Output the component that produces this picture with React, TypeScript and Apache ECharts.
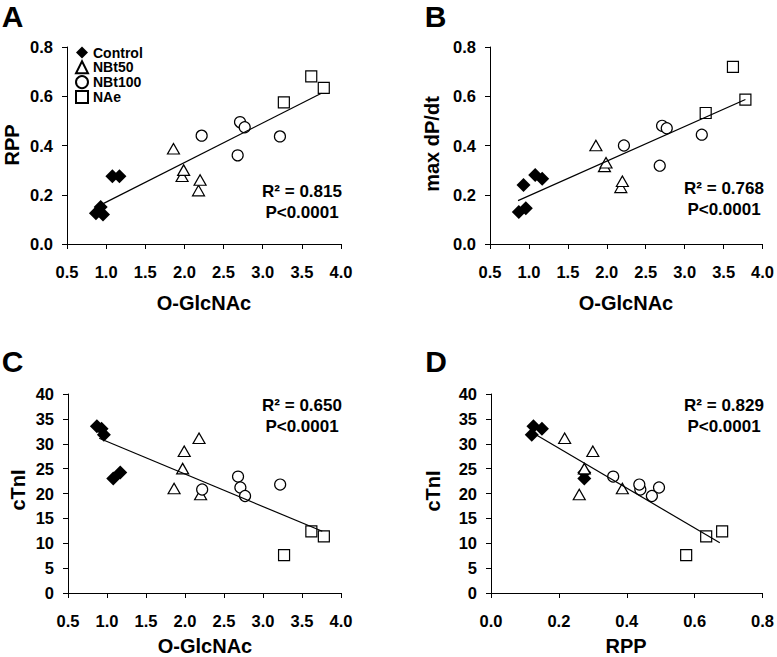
import React, { useEffect, useRef } from 'react';
import * as echarts from 'echarts';

const groups = ['Control', 'NBt50', 'NBt100', 'NAe'];

// O-GlcNAc values per group
const glcControl = [0.87, 0.93, 0.96, 1.08, 1.17];
const glcNBt50 = [1.86, 1.97, 1.99, 2.18, 2.2];
const glcNBt100 = [2.22, 2.68, 2.71, 2.77, 3.22];
const glcNAe = [3.27, 3.62, 3.78];

// RPP values per group
const rppControl = [0.125, 0.15, 0.12, 0.275, 0.275];
const rppNBt50 = [0.387, 0.275, 0.3, 0.217, 0.26];
const rppNBt100 = [0.44, 0.36, 0.495, 0.474, 0.437];
const rppNAe = [0.575, 0.681, 0.634];

// max dP/dt values per group
const dpdtControl = [0.13, 0.24, 0.145, 0.28, 0.265];
const dpdtNBt50 = [0.4, 0.315, 0.33, 0.23, 0.255];
const dpdtNBt100 = [0.4, 0.318, 0.48, 0.47, 0.444];
const dpdtNAe = [0.532, 0.719, 0.586];

// cTnI values per group
const ctniControl = [33.5, 33.0, 31.8, 23.0, 24.2];
const ctniNBt50 = [21.0, 25.0, 28.5, 31.1, 19.8];
const ctniNBt100 = [20.8, 23.4, 21.2, 19.5, 21.8];
const ctniNAe = [7.6, 12.4, 11.4];

// trend line end points (as drawn)
const fitA = [[0.95, 0.162], [3.75, 0.612]];
const fitB = [[0.86, 0.176], [3.78, 0.587]];
const fitC = [[0.9, 31.1], [3.76, 12.4]];
const fitD = [[0.125, 32.1], [0.674, 10.1]];

const statsA = ['R² = 0.815', 'P<0.0001'];
const statsB = ['R² = 0.768', 'P<0.0001'];
const statsC = ['R² = 0.650', 'P<0.0001'];
const statsD = ['R² = 0.829', 'P<0.0001'];

const panelLetters = ['A', 'B', 'C', 'D'];
const xNames = ['O-GlcNAc', 'O-GlcNAc', 'O-GlcNAc', 'RPP'];
const yNames = ['RPP', 'max dP/dt', 'cTnI', 'cTnI'];

const FONT = '"Liberation Sans", Arial, Helvetica, sans-serif';

const pair = (xs: number[], ys: number[]) => xs.map((x, i) => [x, ys[i]]);

const symbolDefs: Record<string, { symbol: string; size: any; filled: boolean }> = {
  Control: { symbol: 'diamond', size: 14, filled: true },
  NBt50: { symbol: 'triangle', size: [12, 10.5], filled: false },
  NBt100: { symbol: 'circle', size: 11, filled: false },
  NAe: { symbol: 'rect', size: 11, filled: false },
};

function scatter(name: string, xs: number[], ys: number[], gi: number) {
  const d = symbolDefs[name];
  return {
    type: 'scatter',
    name,
    xAxisIndex: gi,
    yAxisIndex: gi,
    symbol: d.symbol,
    symbolSize: d.size,
    data: pair(xs, ys),
    itemStyle: d.filled
      ? { color: '#000', borderColor: '#000', borderWidth: 0, opacity: 1 }
      : { color: '#fff', borderColor: '#000', borderWidth: 1.2, opacity: 1 },
    z: 3,
  };
}

function fitLine(data: number[][], gi: number) {
  return {
    type: 'line',
    xAxisIndex: gi,
    yAxisIndex: gi,
    data,
    symbol: 'none',
    silent: true,
    lineStyle: { color: '#000', width: 1.2 },
    z: 4,
  };
}

const labelStyle = {
  fontSize: 16.5,
  fontWeight: 'bold',
  color: '#000',
  fontFamily: FONT,
};

function xAxis(gi: number, min: number, max: number, interval: number) {
  return {
    type: 'value',
    gridIndex: gi,
    min,
    max,
    interval,
    axisLine: { show: true, onZero: false, lineStyle: { color: '#000', width: 1 } },
    axisTick: { show: true, inside: false, length: 5, lineStyle: { color: '#000', width: 1 } },
    axisLabel: { ...labelStyle, margin: 19, formatter: (v: number) => v.toFixed(1) },
    splitLine: { show: false },
  };
}

function yAxis(gi: number, min: number, max: number, interval: number, dec: number) {
  return {
    type: 'value',
    gridIndex: gi,
    min,
    max,
    interval,
    axisLine: { show: true, onZero: false, lineStyle: { color: '#000', width: 1 } },
    axisTick: { show: true, inside: false, length: 5, lineStyle: { color: '#000', width: 1 } },
    axisLabel: { ...labelStyle, margin: 14, formatter: (v: number) => v.toFixed(dec) },
    splitLine: { show: false },
  };
}

function txt(text: string, x: number, y: number, size: number, rotation = 0) {
  return {
    type: 'text',
    x,
    y,
    rotation,
    silent: true,
    style: {
      text,
      fill: '#000',
      fontSize: size,
      fontWeight: 'bold',
      fontFamily: FONT,
      textAlign: 'center',
      textVerticalAlign: 'middle',
    },
  };
}

export default function App() {
  const ref = useRef<HTMLDivElement>(null);
  useEffect(() => {
    const chart = echarts.init(ref.current!, null, { renderer: 'svg' });
    const grids = [
      { left: 67, top: 47, width: 274, height: 197 },
      { left: 490, top: 47, width: 273, height: 197 },
      { left: 68, top: 394, width: 273, height: 199 },
      { left: 491, top: 394, width: 272, height: 199 },
    ];
    const letterPos = [[12.5, 16], [435.5, 16], [12.5, 361], [436, 361]];
    const xNamePos = [[204, 303], [626, 303], [205, 646], [626, 646]];
    const yNamePos = [[12, 145], [432, 144], [18, 490], [433, 491]];
    const statPos = [[302, 191], [724, 188], [302, 405], [724, 405]];
    const stats = [statsA, statsB, statsC, statsD];

    const graphic: any[] = [];
    panelLetters.forEach((l, i) => graphic.push(txt(l, letterPos[i][0], letterPos[i][1], 30)));
    xNames.forEach((n, i) => graphic.push(txt(n, xNamePos[i][0], xNamePos[i][1], 20)));
    yNames.forEach((n, i) => graphic.push(txt(n, yNamePos[i][0], yNamePos[i][1], 20, Math.PI / 2)));
    stats.forEach((s, i) => {
      graphic.push(txt(s[0], statPos[i][0], statPos[i][1], 17));
      graphic.push(txt(s[1], statPos[i][0], statPos[i][1] + 21.5, 17));
    });

    const option: any = {
      animation: false,
      backgroundColor: '#fff',
      grid: grids,
      xAxis: [xAxis(0, 0.5, 4.0, 0.5), xAxis(1, 0.5, 4.0, 0.5), xAxis(2, 0.5, 4.0, 0.5), xAxis(3, 0, 0.8, 0.2)],
      yAxis: [yAxis(0, 0, 0.8, 0.2, 1), yAxis(1, 0, 0.8, 0.2, 1), yAxis(2, 0, 40, 5, 0), yAxis(3, 0, 40, 5, 0)],
      legend: {
        data: groups,
        orient: 'vertical',
        left: 75,
        top: 45.5,
        itemWidth: 12,
        itemHeight: 12,
        itemGap: 0.8,
        padding: 0,
        selectedMode: false,
        textStyle: { fontSize: 14, fontWeight: 'bold', fontFamily: FONT, color: '#000', lineHeight: 13 },
      },
      graphic,
      series: [
        scatter('Control', glcControl, rppControl, 0),
        scatter('NBt50', glcNBt50, rppNBt50, 0),
        scatter('NBt100', glcNBt100, rppNBt100, 0),
        scatter('NAe', glcNAe, rppNAe, 0),
        fitLine(fitA, 0),
        scatter('Control', glcControl, dpdtControl, 1),
        scatter('NBt50', glcNBt50, dpdtNBt50, 1),
        scatter('NBt100', glcNBt100, dpdtNBt100, 1),
        scatter('NAe', glcNAe, dpdtNAe, 1),
        fitLine(fitB, 1),
        scatter('Control', glcControl, ctniControl, 2),
        scatter('NBt50', glcNBt50, ctniNBt50, 2),
        scatter('NBt100', glcNBt100, ctniNBt100, 2),
        scatter('NAe', glcNAe, ctniNAe, 2),
        fitLine(fitC, 2),
        scatter('Control', rppControl, ctniControl, 3),
        scatter('NBt50', rppNBt50, ctniNBt50, 3),
        scatter('NBt100', rppNBt100, ctniNBt100, 3),
        scatter('NAe', rppNAe, ctniNAe, 3),
        fitLine(fitD, 3),
      ],
    };
    chart.setOption(option);
    return () => chart.dispose();
  }, []);
  return (
    <div
      ref={ref}
      style={{ position: 'absolute', left: 0, top: 0, width: 777, height: 657, background: '#fff' }}
    />
  );
}
